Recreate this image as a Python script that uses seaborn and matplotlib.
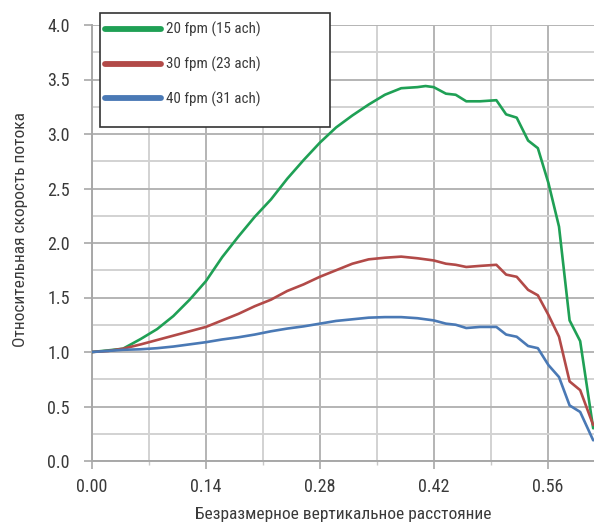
import numpy as np
import pandas as pd
import matplotlib
matplotlib.use("Agg")
import matplotlib.pyplot as plt
import seaborn as sns
from matplotlib.patches import Rectangle
from matplotlib.ticker import MultipleLocator, FixedLocator

# ---- data ----
x_vals = [0.0, 0.02, 0.038, 0.06, 0.08, 0.10, 0.12, 0.14, 0.16, 0.18, 0.20,
          0.22, 0.24, 0.26, 0.28, 0.30, 0.32, 0.34, 0.36, 0.38, 0.40, 0.41,
          0.42, 0.435, 0.447, 0.46, 0.477, 0.497, 0.509, 0.522, 0.536, 0.548,
          0.561, 0.574, 0.587, 0.60, 0.616]

green_20fpm = [1.00, 1.015, 1.03, 1.12, 1.21, 1.33, 1.48, 1.65, 1.87, 2.06, 2.24,
               2.40, 2.59, 2.76, 2.92, 3.06, 3.17, 3.27, 3.36, 3.42, 3.43, 3.44,
               3.43, 3.37, 3.36, 3.30, 3.30, 3.31, 3.18, 3.15, 2.94, 2.87,
               2.55, 2.15, 1.29, 1.10, 0.30]

red_30fpm = [1.00, 1.01, 1.03, 1.07, 1.11, 1.15, 1.19, 1.23, 1.29, 1.35, 1.42,
             1.48, 1.56, 1.62, 1.69, 1.75, 1.81, 1.85, 1.865, 1.875, 1.86, 1.85,
             1.84, 1.81, 1.80, 1.78, 1.79, 1.80, 1.71, 1.69, 1.57, 1.52,
             1.34, 1.14, 0.73, 0.65, 0.33]

blue_40fpm = [1.00, 1.01, 1.02, 1.025, 1.035, 1.05, 1.07, 1.09, 1.115, 1.135, 1.16,
              1.19, 1.215, 1.235, 1.26, 1.285, 1.30, 1.315, 1.32, 1.32, 1.31, 1.30,
              1.29, 1.26, 1.25, 1.22, 1.23, 1.23, 1.16, 1.14, 1.055, 1.035,
              0.88, 0.77, 0.51, 0.45, 0.19]

series_labels = ["20 fpm (15 ach)", "30 fpm (23 ach)", "40 fpm (31 ach)"]
series_colors = ["#1fa055", "#b24a48", "#4a79b5"]
x_ticks = [0.00, 0.14, 0.28, 0.42, 0.56]
x_tick_labels = ["0.00", "0.14", "0.28", "0.42", "0.56"]
y_ticks = [0.0, 0.5, 1.0, 1.5, 2.0, 2.5, 3.0, 3.5, 4.0]
x_label = "Безразмерное вертикальное расстояние"
y_label = "Относительная скорость потока"

frames = []
for lab, vals in zip(series_labels, [green_20fpm, red_30fpm, blue_40fpm]):
    frames.append(pd.DataFrame({"x": x_vals, "y": vals, "series": lab}))
df = pd.concat(frames, ignore_index=True)

# ---- style ----
sns.set_theme(style="white")
FONT = ["Roboto Condensed", "Noto Sans Condensed", "Liberation Sans Narrow",
        "Roboto", "DejaVu Sans"]
plt.rcParams["font.family"] = FONT
plt.rcParams["font.stretch"] = "condensed"
TXT = "#3a3a3a"

fig = plt.figure(figsize=(5.94, 5.27), dpi=100)
ax = fig.add_axes([92 / 594, 1 - 461 / 527, 1 - 92 / 594, (461 - 25) / 527])

sns.lineplot(data=df, x="x", y="y", hue="series", palette=series_colors,
             hue_order=series_labels, linewidth=1.9, ax=ax, legend=False,
             sort=False, estimator=None, zorder=3)

ax.set_xlim(0.0, 0.617)
ax.set_ylim(0.0, 4.0)
ax.xaxis.set_major_locator(FixedLocator(x_ticks))
ax.set_xticklabels(x_tick_labels)
ax.xaxis.set_minor_locator(MultipleLocator(0.07))
ax.yaxis.set_major_locator(FixedLocator(y_ticks))
ax.yaxis.set_minor_locator(MultipleLocator(0.25))

ax.grid(which="major", color="#b4b4b4", linewidth=1.4, zorder=0)
ax.grid(which="minor", color="#d2d2d2", linewidth=1.4, zorder=0)
ax.set_axisbelow(True)

for s in ["top", "right"]:
    ax.spines[s].set_visible(False)
for s in ["left", "bottom"]:
    ax.spines[s].set_color("#a8a8a8")
    ax.spines[s].set_linewidth(1.4)

ax.tick_params(axis="both", which="major", length=6, width=1.2, color="#a8a8a8",
               labelsize=13, labelcolor=TXT, direction="out")
ax.tick_params(axis="y", which="major", pad=10)
ax.tick_params(axis="x", which="major", pad=6)
ax.tick_params(axis="both", which="minor", length=3, width=1.0, color="#c8c8c8")
ax.tick_params(axis="y", which="minor", length=0)
ax.tick_params(left=True, bottom=True, which="both")

ax.set_xlabel(x_label, fontsize=12.5, color=TXT)
ax.set_ylabel(y_label, fontsize=12.5, color=TXT)
ax.xaxis.set_label_coords(0.5, -0.106)
ax.yaxis.set_label_coords(-0.128, 0.53)

# legend
handles = [plt.Line2D([], [], color=c, linewidth=4.2) for c in series_colors]
leg = fig.legend(handles, series_labels, loc="upper left",
                 bbox_to_anchor=(105 / 594, 1 - 22 / 527),
                 bbox_transform=fig.transFigure, frameon=False,
                 fontsize=10.8, handlelength=3.75, handletextpad=0.3,
                 labelspacing=1.3, borderaxespad=0, borderpad=0)
for t in leg.get_texts():
    t.set_color(TXT)
fig.add_artist(Rectangle((100 / 594, 1 - 127 / 527), 230 / 594, 114 / 527,
                         transform=fig.transFigure, facecolor="white",
                         edgecolor="#333333", linewidth=1.2, zorder=1))
leg.set_zorder(5)

fig.savefig("out.png", dpi=100)
